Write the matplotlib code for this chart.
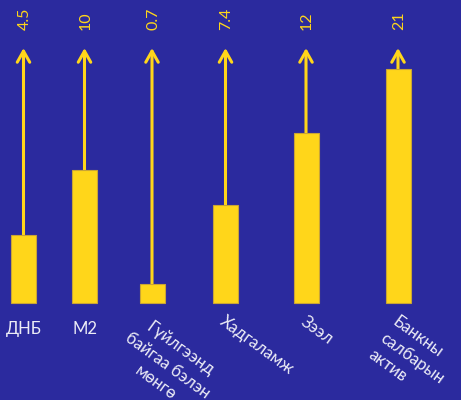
import matplotlib.pyplot as plt

# values shown above the arrows
values = ["4.5", "10", "0.7", "7.4", "12", "21"]
# drawn bar sizes (arbitrary units)
bar_heights = [68, 133, 19, 98, 170, 234]
categories = ["ДНБ", "М2", "Гүйлгээнд\nбайгаа бэлэн\nмөнгө", "Хадгаламж",
              "Зээл", "Банкны\nсалбарын\nактив"]

# layout
slot_x = [23.5, 84.5, 152, 225.5, 306, 398]
rotated = [False, False, True, True, True, True]
align = ["center", "center", "center", "left", "left", "left"]
arrow_top = 255
bg = "#2b2a9e"
yellow = "#ffd61a"
text_col = "#ececf6"

plt.rcParams['font.family'] = ['Lato', 'DejaVu Sans']

fig = plt.figure(figsize=(4.61, 4.0), dpi=100, facecolor=bg)
ax = fig.add_axes([0, 0, 1, 1])
ax.set_facecolor(bg)
ax.set_xlim(0, 461)
ax.set_ylim(-97, 303)
ax.axis("off")

for i in range(len(values)):
    x = slot_x[i]
    ax.annotate("", xy=(x, arrow_top), xytext=(x, 5),
                arrowprops=dict(arrowstyle="->,head_length=0.8,head_width=0.45",
                                lw=2.2, color=yellow, shrinkA=0, shrinkB=0),
                zorder=1)
    ax.bar(x, bar_heights[i], width=25, color=yellow, edgecolor="#c9a436",
           linewidth=0.8, zorder=2)
    ax.text(x + 1, 273, values[i], rotation=90, ha="center", va="bottom",
            color=yellow, fontsize=11.5)
    if rotated[i]:
        dx = -8 if align[i] == "center" else 1
        ax.text(x + dx, -10, categories[i], rotation=-36, rotation_mode="anchor",
                ha="left", va="top", multialignment=align[i],
                color=text_col, fontsize=12, linespacing=1.35)
    else:
        ax.text(x, -18, categories[i], ha="center", va="top",
                color=text_col, fontsize=12)

fig.savefig("out.png", dpi=100, facecolor=bg)
